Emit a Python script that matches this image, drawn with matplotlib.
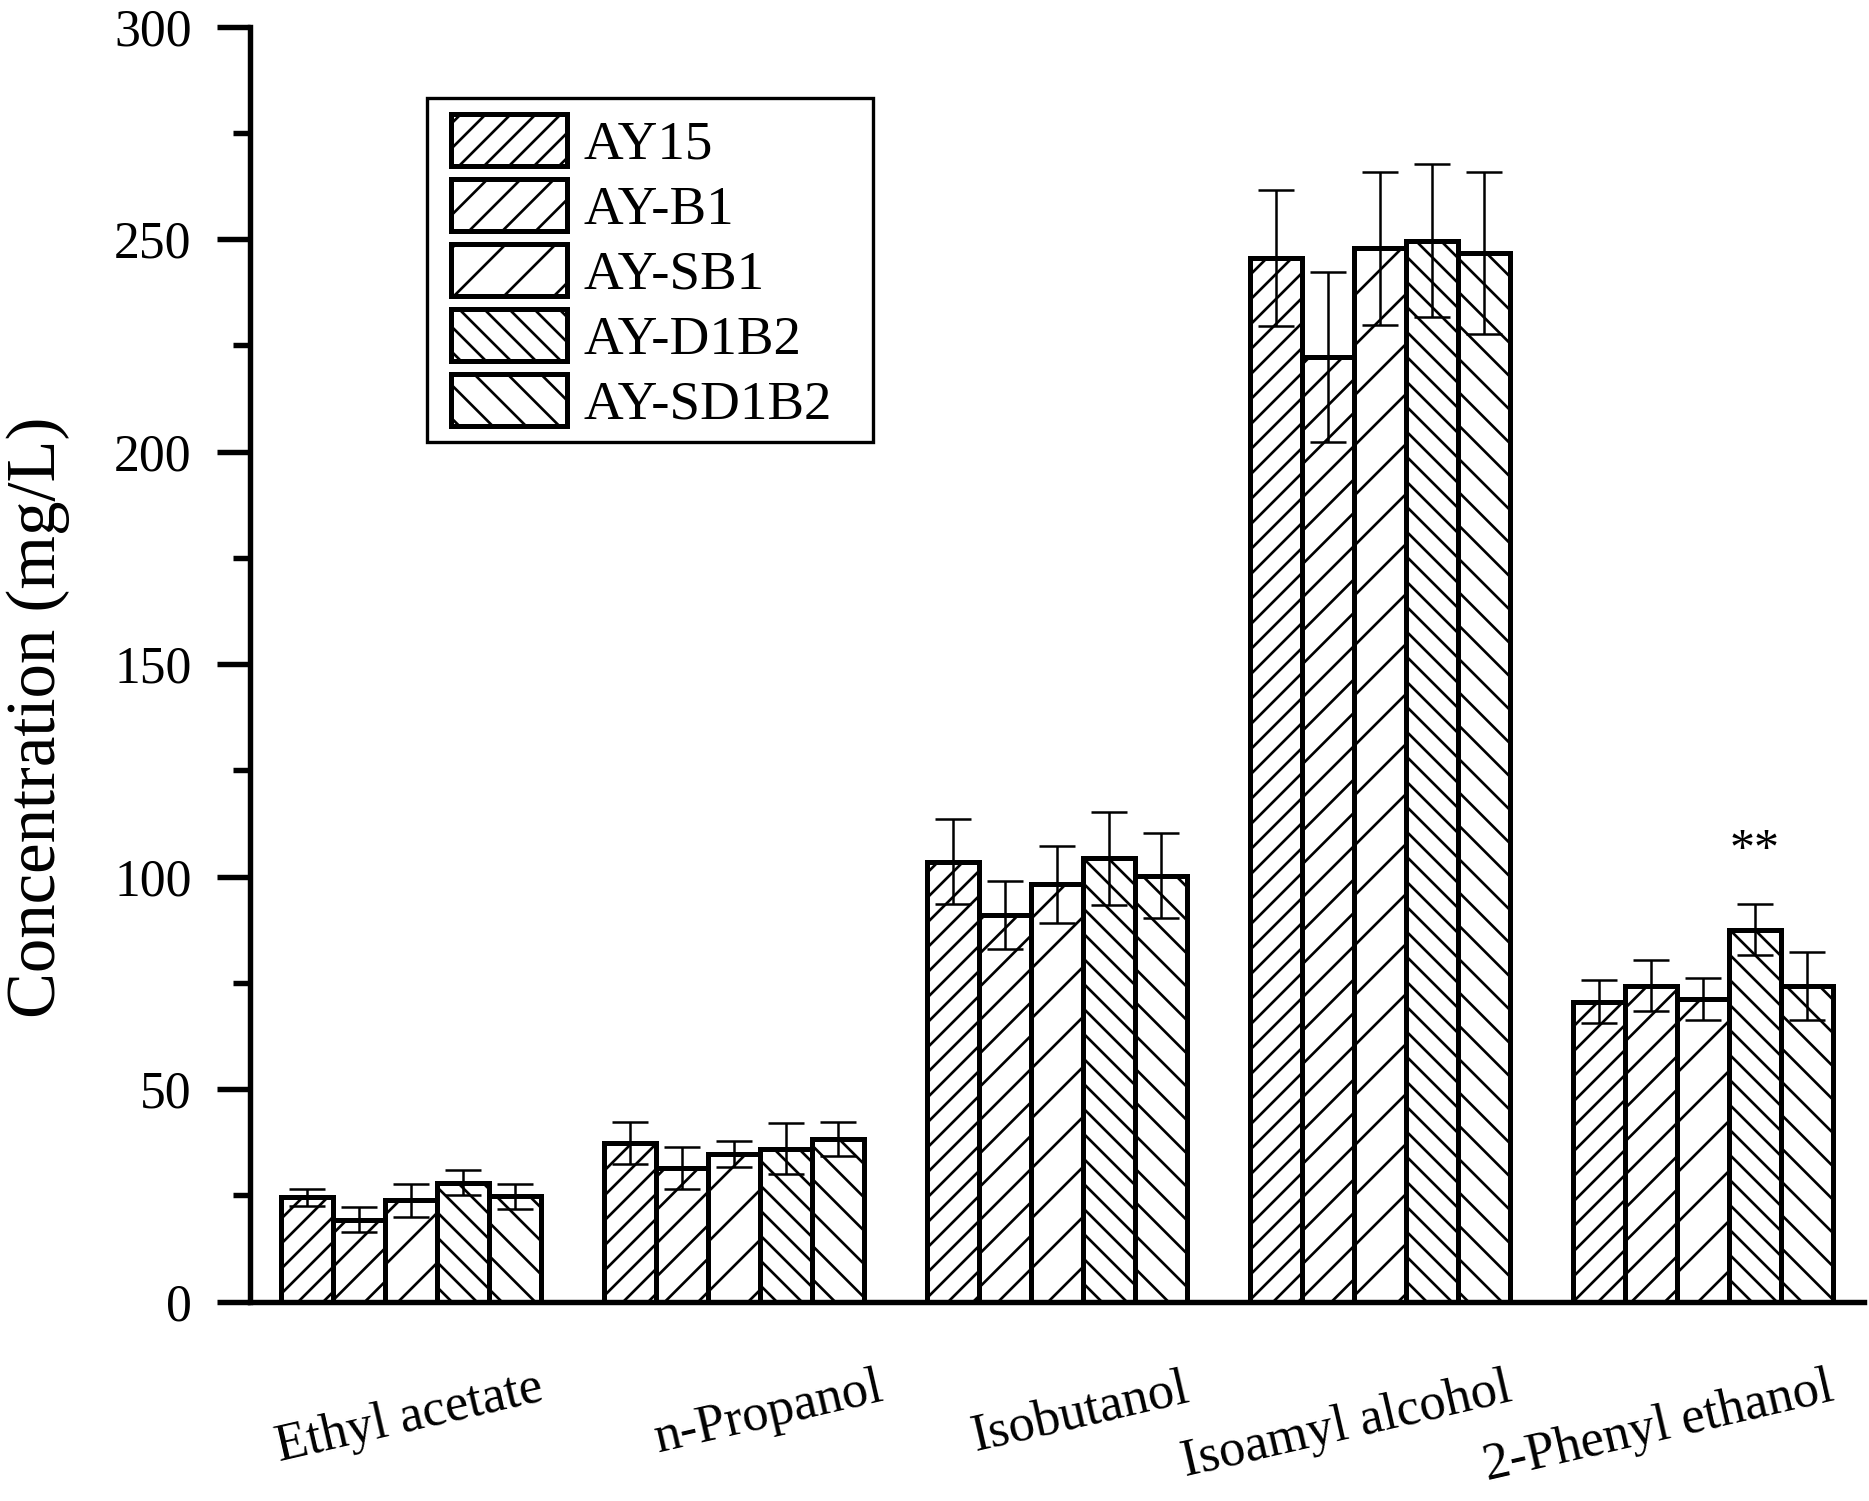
import matplotlib
matplotlib.use("Agg")
import matplotlib.pyplot as plt
from matplotlib.ticker import MultipleLocator
from matplotlib.transforms import ScaledTranslation
from matplotlib.patches import Rectangle
import numpy as np

plt.rcParams['font.family'] = ['Liberation Serif', 'DejaVu Serif']
plt.rcParams['hatch.linewidth'] = 0.32
plt.rcParams['hatch.color'] = 'black'

categories = ['Ethyl acetate', 'n-Propanol', 'Isobutanol', 'Isoamyl alcohol', '2-Phenyl ethanol']
strains = ['AY15', 'AY-B1', 'AY-SB1', 'AY-D1B2', 'AY-SD1B2']

ay15 = [24.6, 37.4, 103.5, 245.5, 70.6]
ay15_err = [2.0, 5.0, 10.0, 16.0, 5.0]
ayb1 = [19.3, 31.5, 91.1, 222.2, 74.4]
ayb1_err = [3.0, 5.0, 8.0, 20.0, 6.0]
aysb1 = [23.9, 34.8, 98.2, 247.9, 71.2]
aysb1_err = [3.9, 3.0, 9.0, 18.0, 5.0]
ayd1b2 = [28.0, 36.0, 104.3, 249.6, 87.5]
ayd1b2_err = [3.0, 6.0, 11.0, 18.0, 6.0]
aysd1b2 = [24.8, 38.2, 100.2, 246.7, 74.4]
aysd1b2_err = [2.9, 4.0, 10.0, 19.0, 8.0]

values = [ay15, ayb1, aysb1, ayd1b2, aysd1b2]
errors = [ay15_err, ayb1_err, aysb1_err, ayd1b2_err, aysd1b2_err]
hatches = ['/' * 8, '/' * 6, '/' * 4, '\\' * 8, '\\' * 6]

sig_label = '**'
sig_group = 4
sig_strain = 3
sig_y = 106.0

W, H, DPI = 1869, 1501, 600
fig = plt.figure(figsize=(W / DPI, H / DPI), dpi=DPI)
ax = fig.add_axes([250 / W, 1 - 1301.7 / H, 1614 / W, (1301.7 - 26.7) / H])

x = np.arange(len(categories))
bw = 0.161
bars = []
for i, (vals, errs, h, name) in enumerate(zip(values, errors, hatches, strains)):
    pos = x + (i - 2) * bw
    b = ax.bar(pos, vals, width=bw, facecolor='white', edgecolor='black',
               linewidth=0.6, hatch=h, label=name, zorder=2)
    bars.append(b)
    ax.errorbar(pos, vals, yerr=errs, fmt='none', ecolor='black',
                elinewidth=0.3, capsize=2.2, capthick=0.3, zorder=3)

ax.text(x[sig_group] + (sig_strain - 2) * bw, sig_y, sig_label,
        ha='center', va='center', fontsize=6)

ax.set_xlim(-0.5, 4.5)
ax.set_ylim(0, 300)
ax.yaxis.set_major_locator(MultipleLocator(50))
ax.yaxis.set_minor_locator(MultipleLocator(25))
ax.set_xticks(x)
ax.set_xticklabels(categories, rotation=13, ha='right', va='top', fontsize=6.3)
ax.tick_params(axis='x', length=0, pad=7.5)
label_shift_px = [136, 154, 136, 136, 136]
for lbl, sh in zip(ax.get_xticklabels(), label_shift_px):
    lbl.set_transform(lbl.get_transform() + ScaledTranslation(sh / DPI, 0, fig.dpi_scale_trans))
ax.tick_params(axis='y', which='major', length=4, width=0.65, labelsize=6.2, pad=3)
ax.tick_params(axis='y', which='minor', length=2.1, width=0.65)

for s in ['top', 'right']:
    ax.spines[s].set_visible(False)
for s in ['left', 'bottom']:
    ax.spines[s].set_linewidth(0.65)

ax.set_ylabel('Concentration (mg/L)', fontsize=8.25)
ax.yaxis.set_label_coords(-0.1115, 0.458)

# legend frame drawn as a rectangle, entries placed inside it
frame = Rectangle((427 / W, 1 - 442 / H), 446 / W, 344 / H, transform=fig.transFigure,
                  facecolor='white', edgecolor='black', linewidth=0.4,
                  zorder=4, clip_on=False)
ax.add_patch(frame)
leg = ax.legend(handles=bars, loc='upper left',
                bbox_to_anchor=(451 / W, 1 - 114 / H),
                bbox_transform=fig.transFigure,
                fontsize=6.6, frameon=False,
                handlelength=2.1, handleheight=1.08, labelspacing=0.15,
                handletextpad=0.3, borderpad=0, borderaxespad=0)
leg.set_zorder(5)

fig.savefig('out.png', dpi=DPI)
